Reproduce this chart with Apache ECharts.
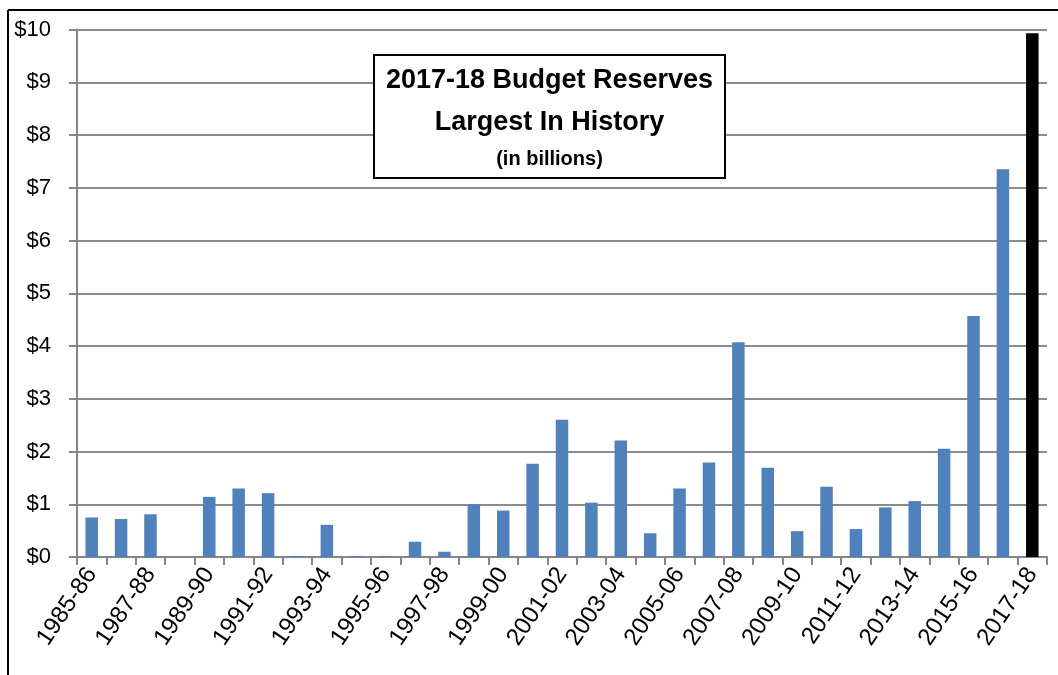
<!DOCTYPE html>
<html>
<head>
<meta charset="utf-8">
<script src="https://cdn.jsdelivr.net/npm/echarts@6/dist/echarts.min.js"></script>
<style>
html,body{margin:0;padding:0;background:#fff;}
#chart{width:1058px;height:675px;}
</style>
</head>
<body>
<div id="chart"></div>
<script>
const categories = ['1985-86','1986-87','1987-88','1988-89','1989-90','1990-91','1991-92','1992-93','1993-94','1994-95','1995-96','1996-97','1997-98','1998-99','1999-00','2000-01','2001-02','2002-03','2003-04','2004-05','2005-06','2006-07','2007-08','2008-09','2009-10','2010-11','2011-12','2012-13','2013-14','2014-15','2015-16','2016-17','2017-18'];
const reserves = [0.75,0.72,0.81,0.0,1.14,1.30,1.21,0.02,0.61,0.02,0.02,0.29,0.10,1.00,0.88,1.77,2.60,1.03,2.21,0.45,1.30,1.79,4.07,1.69,0.49,1.33,0.53,0.94,1.06,2.05,4.57,7.35,9.93];
const yTicks = ['$0','$1','$2','$3','$4','$5','$6','$7','$8','$9','$10'];
const titleLines = ['2017-18 Budget Reserves','Largest In History','(in billions)'];

const FONT = "'Liberation Sans Narrow','Liberation Sans','DejaVu Sans Condensed',sans-serif";
const FONTB = "'Liberation Sans',Arial,sans-serif";
const highlightIndex = categories.length - 1;

const chart = echarts.init(document.getElementById('chart'), null, {renderer:'canvas'});
chart.setOption({
  backgroundColor:'#ffffff',
  animation:false,
  grid:{left:77, right:11, top:29.5, bottom:118, containLabel:false},
  xAxis:{
    type:'category',
    data:categories,
    boundaryGap:true,
    axisLine:{show:true, lineStyle:{color:'#868686', width:2}},
    axisTick:{show:true, interval:0, length:8, lineStyle:{color:'#868686', width:2}},
    axisLabel:{interval:1, rotate:56, margin:13, fontSize:24, fontFamily:FONT, color:'#000'}
  },
  yAxis:{
    type:'value',
    min:0, max:10, interval:1,
    axisLine:{show:true, lineStyle:{color:'#868686', width:2}},
    axisTick:{show:true, inside:false, length:8, lineStyle:{color:'#868686', width:2}},
    splitLine:{show:true, lineStyle:{color:'#8c8c8c', width:2}},
    axisLabel:{margin:26, fontSize:22, fontFamily:FONT, color:'#000',
      formatter:(v)=>yTicks[Math.round(v)]}
  },
  series:[{
    type:'bar',
    barWidth:12.5,
    data:reserves.map((v,i)=> i===highlightIndex ? {value:v, itemStyle:{color:'#000000'}} : v),
    itemStyle:{color:'#4f81bd'}
  }],
  graphic:[
    {type:'line', shape:{x1:8,y1:10,x2:1058,y2:10}, style:{stroke:'#000',lineWidth:2}},
    {type:'line', shape:{x1:8,y1:10,x2:8,y2:675}, style:{stroke:'#000',lineWidth:2}},
    {type:'rect', shape:{x:374,y:55,width:351,height:123}, style:{fill:'#fff',stroke:'#000',lineWidth:2}, z:100},
    {type:'text', x:549.5, y:81, z:101, style:{text:titleLines[0], font:"bold 27px "+FONTB, fill:'#000', align:'center', verticalAlign:'middle'}},
    {type:'text', x:549.5, y:123, z:101, style:{text:titleLines[1], font:"bold 27px "+FONTB, fill:'#000', align:'center', verticalAlign:'middle'}},
    {type:'text', x:549.5, y:159, z:101, style:{text:titleLines[2], font:"bold 20px "+FONTB, fill:'#000', align:'center', verticalAlign:'middle'}}
  ]
});
</script>
</body>
</html>
